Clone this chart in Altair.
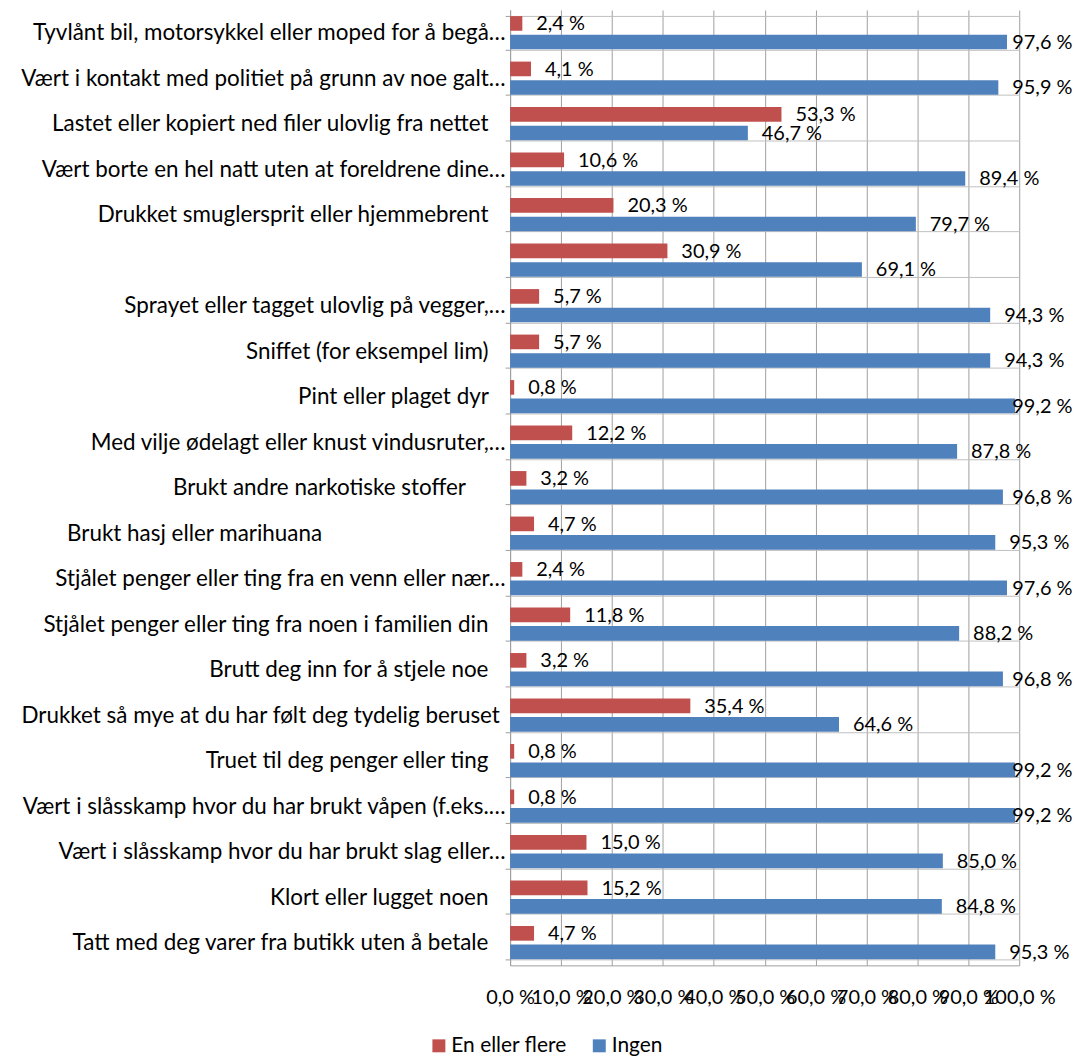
import altair as alt
import pandas as pd

NB = "\u00a0"
ZW = "\u200b"

categories = [
    "Tyvlånt bil, motorsykkel eller moped for å begå…",
    "Vært i kontakt med politiet på grunn av noe galt…",
    "Lastet eller kopiert ned filer ulovlig fra nettet" + NB * 3 + ZW,
    "Vært borte en hel natt uten at foreldrene dine…",
    "Drukket smuglersprit eller hjemmebrent" + NB * 3 + ZW,
    NB,
    "Sprayet eller tagget ulovlig på vegger,…",
    "Sniffet (for eksempel lim)" + NB * 3 + ZW,
    "Pint eller plaget dyr" + NB * 3 + ZW,
    "Med vilje ødelagt eller knust vindusruter,…",
    "Brukt andre narkotiske stoffer" + NB * 7 + ZW,
    "Brukt hasj eller marihuana" + NB * 32 + ZW,
    "Stjålet penger eller ting fra en venn eller nær…",
    "Stjålet penger eller ting fra noen i familien din" + NB * 3 + ZW,
    "Brutt deg inn for å stjele noe" + NB * 3 + ZW,
    "Drukket så mye at du har følt deg tydelig beruset" + NB * 1 + ZW,
    "Truet til deg penger eller ting" + NB * 3 + ZW,
    "Vært i slåsskamp hvor du har brukt våpen (f.eks.…",
    "Vært i slåsskamp hvor du har brukt slag eller…",
    "Klort eller lugget noen" + NB * 3 + ZW,
    "Tatt med deg varer fra butikk uten å betale" + NB * 3 + ZW,
]

en_eller_flere = [2.4, 4.1, 53.3, 10.6, 20.3, 30.9, 5.7, 5.7, 0.8, 12.2, 3.2,
                  4.7, 2.4, 11.8, 3.2, 35.4, 0.8, 0.8, 15.0, 15.2, 4.7]
ingen = [97.6, 95.9, 46.7, 89.4, 79.7, 69.1, 94.3, 94.3, 99.2, 87.8, 96.8,
         95.3, 97.6, 88.2, 96.8, 64.6, 99.2, 99.2, 85.0, 84.8, 95.3]

series_names = ["En eller flere", "Ingen"]
series_colors = ["#C0504D", "#4F81BD"]
x_ticks = [0, 10, 20, 30, 40, 50, 60, 70, 80, 90, 100]

rows = []
for c, a, b in zip(categories, en_eller_flere, ingen):
    rows.append({"cat": c, "series": series_names[0], "value": a})
    rows.append({"cat": c, "series": series_names[1], "value": b})
df = pd.DataFrame(rows)

FONT = "Lato"
FS = 20

y_enc = alt.Y(
    "cat:N",
    sort=categories,
    scale=alt.Scale(paddingInner=0.27, paddingOuter=0.135),
    axis=alt.Axis(
        title=None,
        tickBand="extent",
        grid=True,
        gridColor="#C0C0C0",
        domainColor="#A0A0A0",
        tickColor="#A0A0A0",
        tickSize=5,
        labelPadding=0,
        labelFont=FONT,
        labelFontSize=22.5,
        labelColor="#000000",
        labelLimit=700,
    ),
)
yoff_enc = alt.YOffset("series:N", sort=series_names,
                       scale=alt.Scale(paddingInner=0.21))
x_scale = alt.Scale(domain=[0, 100], nice=False)

bars = alt.Chart(df).mark_bar().encode(
    y=y_enc,
    yOffset=yoff_enc,
    x=alt.X(
        "value:Q",
        scale=x_scale,
        axis=alt.Axis(
            title=None,
            values=x_ticks,
            labelExpr="replace(format(datum.value, '.1f'), '.', ',') + ' %'",
            grid=True,
            gridColor="#A0A0A0",
            domainColor="#A0A0A0",
            ticks=False,
            labelOverlap=False,
            labelFlush=False,
            labelPadding=22,
            labelFont=FONT,
            labelFontSize=FS,
            labelColor="#000000",
        ),
    ),
    color=alt.Color(
        "series:N",
        sort=series_names,
        scale=alt.Scale(domain=series_names, range=series_colors),
        legend=alt.Legend(
            title=None,
            orient="none",
            direction="horizontal",
            legendX=-82,
            legendY=1029,
            symbolType="square",
            symbolSize=169,
            symbolStrokeWidth=0,
            labelFont=FONT,
            labelFontSize=21,
            labelColor="#000000",
            labelOffset=2,
            columnPadding=22,
        ),
    ),
)

labels = alt.Chart(df).transform_calculate(
    lx="min(datum.value, 95.9)",
    txt="replace(format(datum.value, '.1f'), '.', ',') + ' %'",
).mark_text(
    align="left", baseline="middle", dx=14, dy=1,
    font=FONT, fontSize=FS, color="#000000",
).encode(
    y=alt.Y("cat:N", sort=categories),
    yOffset=alt.YOffset("series:N", sort=series_names),
    x=alt.X("lx:Q", scale=x_scale),
    text="txt:N",
)

chart = alt.layer(bars, labels).properties(
    width=511,
    height=959,
    autosize=alt.AutoSizeParams(type="none"),
    padding={"left": 504, "top": 0, "right": 55, "bottom": 90},
).configure_view(stroke=None)

chart.save("out.html", embed_options={"renderer": "svg", "actions": False})
